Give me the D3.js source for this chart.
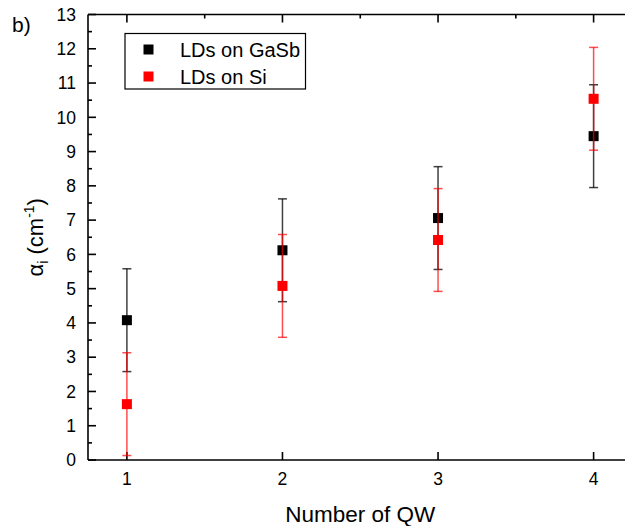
<!DOCTYPE html>
<html><head><meta charset="utf-8">
<script src="https://cdn.jsdelivr.net/npm/d3@7"></script>
<style>body{margin:0;background:#fff}svg{display:block;font-family:"Liberation Sans",Arial,sans-serif}</style>
</head><body>
<svg id="c" width="625" height="526"></svg>
<script>
const qw = [1, 2, 3, 4];
const gasbValues = [4.08, 6.12, 7.06, 9.45];
const gasbErrors = [1.5, 1.5, 1.5, 1.5];
const siValues = [1.63, 5.08, 6.42, 10.54];
const siErrors = [1.5, 1.5, 1.5, 1.5];
const yTicks = [0,1,2,3,4,5,6,7,8,9,10,11,12,13];
const xTicks = [1,2,3,4];
const seriesNames = ["LDs on GaSb", "LDs on Si"];
const seriesColors = ["#000000", "#ff0000"];

const svg = d3.select("#c");
const L = 88, R = 632.5, T = 14.5, B = 460;
const x = d3.scaleLinear().domain([0.75, 4.25]).range([L, R]);
const y = d3.scaleLinear().domain([0, 13]).range([B, T]);

// axes
const ax = svg.append("g").attr("stroke", "#000").attr("stroke-width", 1.6).attr("fill", "none");
ax.append("line").attr("x1", L).attr("x2", R + 5).attr("y1", B).attr("y2", B);
ax.append("line").attr("x1", L).attr("x2", R + 5).attr("y1", T).attr("y2", T);
ax.append("line").attr("x1", L).attr("x2", L).attr("y1", T).attr("y2", B);

// y ticks (inside), major + minor
const yMinor = d3.range(0.5, 13, 1);
yTicks.forEach(v => ax.append("line").attr("x1", L).attr("x2", L + 8).attr("y1", y(v)).attr("y2", y(v)));
yMinor.forEach(v => ax.append("line").attr("x1", L).attr("x2", L + 4).attr("y1", y(v)).attr("y2", y(v)));
// x ticks bottom (inside)
xTicks.forEach(v => ax.append("line").attr("x1", x(v)).attr("x2", x(v)).attr("y1", B).attr("y2", B - 8));
// x ticks top (inside) major + minor
xTicks.forEach(v => ax.append("line").attr("x1", x(v)).attr("x2", x(v)).attr("y1", T).attr("y2", T + 8));
[1.5, 2.5, 3.5].forEach(v => ax.append("line").attr("x1", x(v)).attr("x2", x(v)).attr("y1", T).attr("y2", T + 4));

// tick labels
svg.append("g").selectAll("text").data(yTicks).join("text")
  .attr("x", L - 12).attr("y", d => y(d)).attr("dy", "0.36em")
  .attr("text-anchor", "end").attr("font-size", 17.5).text(d => d);
svg.append("g").selectAll("text").data(xTicks).join("text")
  .attr("x", d => x(d)).attr("y", 485).attr("text-anchor", "middle")
  .attr("font-size", 17.5).text(d => d);

// axis titles
svg.append("text").attr("x", (L + R) / 2).attr("y", 522).attr("text-anchor", "middle")
  .attr("font-size", 22.5).text("Number of QW");
const yl = svg.append("text").attr("transform", `translate(43,${(T + B) / 2}) rotate(-90)`)
  .attr("text-anchor", "middle").attr("font-size", 22);
yl.append("tspan").text("α");
yl.append("tspan").attr("font-size", 14).attr("dy", 5).text("i");
yl.append("tspan").attr("dy", -5).text(" (cm");
yl.append("tspan").attr("font-size", 14).attr("dy", -9).text("-1");
yl.append("tspan").attr("dy", 9).text(")");

svg.append("text").attr("x", 12).attr("y", 32).attr("font-size", 21).text("b)");

// data series
const series = [
  {name: seriesNames[0], vals: gasbValues, errs: gasbErrors, color: seriesColors[0], op: 0.75},
  {name: seriesNames[1], vals: siValues, errs: siErrors, color: seriesColors[1], op: 0.7}
];
series.forEach(s => {
  const g = svg.append("g");
  const d = qw.map((q, i) => ({q, v: s.vals[i], e: s.errs[i]}));
  const eb = g.append("g").attr("stroke", s.color).attr("stroke-width", 1.5).attr("stroke-opacity", s.op);
  eb.selectAll(".v").data(d).join("line")
    .attr("x1", p => x(p.q)).attr("x2", p => x(p.q))
    .attr("y1", p => y(p.v - p.e)).attr("y2", p => y(p.v + p.e));
  eb.selectAll(".t").data(d).join("line")
    .attr("x1", p => x(p.q) - 4.5).attr("x2", p => x(p.q) + 4.5)
    .attr("y1", p => y(p.v + p.e)).attr("y2", p => y(p.v + p.e));
  eb.selectAll(".b").data(d).join("line")
    .attr("x1", p => x(p.q) - 4.5).attr("x2", p => x(p.q) + 4.5)
    .attr("y1", p => y(p.v - p.e)).attr("y2", p => y(p.v - p.e));
  g.selectAll("rect").data(d).join("rect")
    .attr("x", p => x(p.q) - 5).attr("y", p => y(p.v) - 5)
    .attr("width", 10).attr("height", 10).attr("fill", s.color);
});

// legend
const lg = svg.append("g");
lg.append("rect").attr("x", 125).attr("y", 33.5).attr("width", 180.5).attr("height", 55.5)
  .attr("fill", "#fff").attr("stroke", "#000").attr("stroke-width", 1.2);
series.forEach((s, i) => {
  const yy = 49.5 + i * 27;
  lg.append("rect").attr("x", 143.5).attr("y", yy - 5).attr("width", 10).attr("height", 10).attr("fill", s.color);
  lg.append("text").attr("x", 180).attr("y", yy).attr("dy", "0.36em").attr("font-size", 20).text(s.name);
});
</script>
</body></html>
